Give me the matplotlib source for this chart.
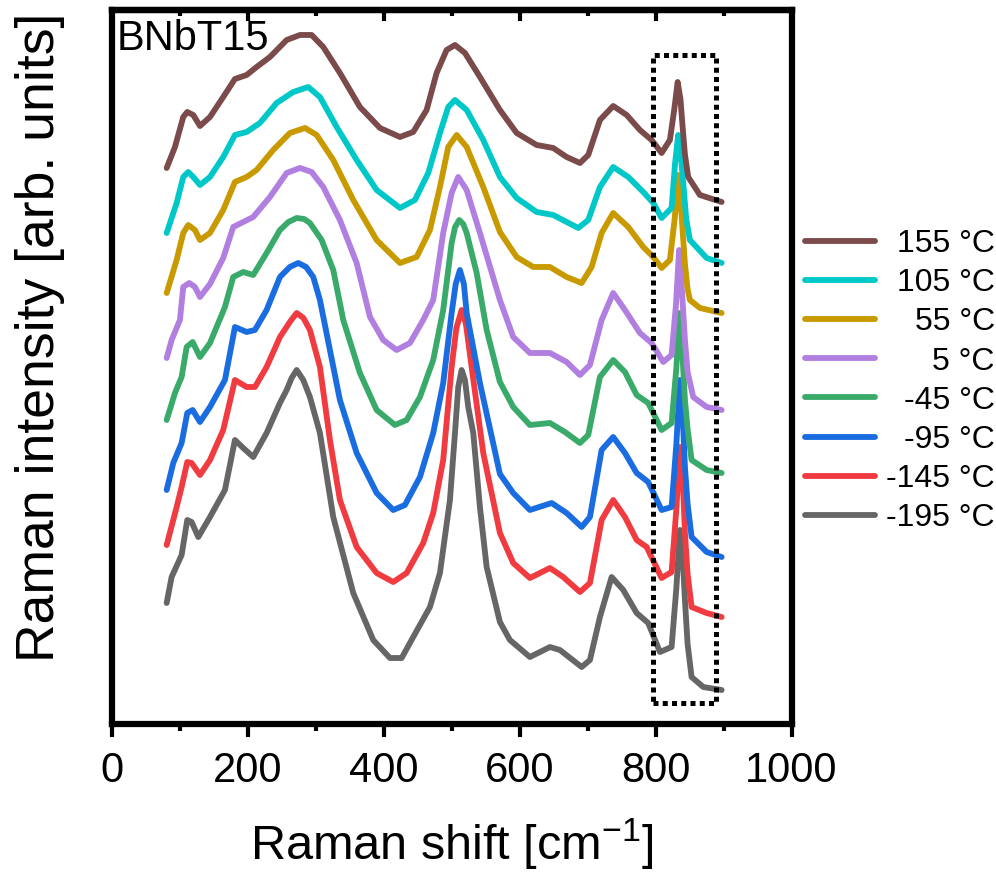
import numpy as np
import matplotlib.pyplot as plt
from matplotlib.patches import Rectangle
from matplotlib.ticker import MultipleLocator

plt.rcParams['font.family'] = ['Liberation Sans', 'DejaVu Sans']
plt.rcParams['mathtext.fontset'] = 'custom'
plt.rcParams['mathtext.rm'] = 'Liberation Sans'
plt.rcParams['mathtext.default'] = 'regular'

# Raman spectra (stacked): shift [cm-1], intensity [arb. units]
x_m195 = [80.9, 88.2, 102.9, 111.2, 117.6, 127.4, 144.6, 166.6, 181.3, 193.5, 208.2, 227.9, 247.5, 257.4,
          264.7, 272.1, 281.8, 291.6, 306.3, 325.9, 355.3, 384.7, 409.3, 426.5, 443.5, 468.1, 482.8, 497.5,
          504.9, 509.7, 514.7, 519.6, 524.4, 531.8, 541.6, 551.5, 571, 585.7, 615.1, 644.6, 659.3, 691.2,
          703.4, 718.1, 735.3, 752.4, 772.1, 789.1, 806.3, 823.5, 830.5, 835.7, 840, 843.1, 847, 852.9,
          870, 897.1]
y_m195 = [121, 147, 169, 204, 202, 187, 207, 234, 284, 276, 267, 291, 321, 334,
          346, 354, 344, 327, 291, 207, 131, 84, 66, 66, 87, 117, 151, 224,
          291, 337, 354, 344, 317, 291, 217, 157, 102, 84, 67, 77, 74, 57,
          64, 107, 147, 134, 111, 101, 72, 77, 136, 194, 165, 124, 80, 47,
          37, 34]

x_m145 = [80.9, 95.6, 102.9, 111.2, 117.6, 129.9, 144.6, 164.1, 181.3, 198.5, 210.7, 227.9, 247.5, 262,
          272.1, 282, 291.6, 306.3, 321, 335.7, 360.3, 389.7, 414.1, 433.8, 458.2, 472.9, 487.6, 500,
          507, 514.7, 521, 529.4, 546.5, 571, 590.6, 615.1, 644.6, 664.1, 688.7, 703.4, 720.6, 737.6,
          754.9, 772.1, 786.8, 808.8, 823.5, 830.5, 835.7, 840, 843.1, 847, 852.9, 875, 897.1]
y_m145 = [179, 217, 237, 262, 261, 249, 264, 294, 344, 337, 337, 357, 387, 402,
          411, 406, 394, 357, 284, 224, 177, 151, 142, 151, 181, 211, 264, 357,
          396, 414, 400, 357, 271, 191, 161, 146, 156, 147, 132, 141, 204, 224,
          207, 184, 177, 146, 152, 215, 277, 245, 191, 150, 117, 111, 107]

x_m95 = [80.9, 90.6, 102.9, 111.2, 119.1, 129.9, 144.6, 166.6, 181.3, 198.5, 210.7, 227.9, 247.5, 262,
         274.4, 286, 296.5, 306.3, 321, 335.7, 360.3, 389.7, 414.1, 431.3, 453.4, 472.9, 487.6, 500,
         506, 512.2, 518, 522.1, 541.6, 571, 590.6, 615.1, 647.1, 669.1, 691.2, 703.4, 720.6, 737.6,
         754.9, 772.1, 789.1, 808.8, 823.5, 830.5, 835.7, 840, 843.1, 847, 852.9, 875, 897.1]
y_m95 = [234, 261, 281, 311, 314, 302, 317, 344, 397, 392, 394, 414, 447, 457,
         461, 457, 447, 424, 374, 324, 271, 231, 214, 219, 247, 291, 341, 411,
         440, 454, 440, 411, 341, 250, 231, 214, 221, 211, 197, 207, 274, 287,
         271, 251, 242, 214, 217, 280, 344, 305, 257, 220, 187, 172, 167]

x_m45 = [80.9, 93.1, 102.9, 110.3, 119.1, 129.9, 144.6, 166.6, 178.8, 193.5, 208.2, 227.9, 247.5, 260,
         272.1, 283, 291.6, 308.8, 325.9, 340.6, 365.1, 389.7, 416.6, 433.8, 453.4, 472.9, 487.6, 500,
         505, 511.2, 517, 522.1, 536.8, 551.5, 571, 590.6, 615.1, 644.6, 666.6, 688.7, 700.9, 718.1,
         737.6, 754.9, 772.1, 789.1, 808.8, 823.5, 830.5, 834.7, 839, 843.1, 847, 852.9, 875, 897.1]
y_m45 = [304, 331, 347, 377, 382, 367, 381, 417, 447, 452, 449, 471, 494, 502,
         506, 505, 501, 484, 454, 404, 351, 314, 299, 304, 327, 364, 414, 481,
         497, 504, 500, 491, 451, 394, 342, 317, 299, 301, 292, 281, 289, 347,
         364, 352, 329, 321, 294, 301, 356, 411, 375, 324, 295, 264, 254, 251]

x_p5 = [80.9, 88.2, 100.4, 105.3, 114.1, 122.5, 129.9, 144.6, 164.1, 178.8, 193.5, 208.2, 232.8, 257.4,
        276.9, 294.1, 311.2, 335.7, 360.3, 379.9, 399.4, 419.1, 438.7, 458.2, 472.9, 487.6, 500, 509.7,
        522.1, 541.6, 571, 590.6, 615.1, 644.6, 669.1, 688.7, 703.4, 720.6, 737.6, 754.9, 776.9, 794.1,
        811.2, 823.5, 830, 834.5, 839, 843, 847, 855.3, 875, 897.1]
y_p5 = [366, 384, 404, 437, 441, 437, 427, 440, 466, 497, 502, 507, 527, 551,
        556, 552, 537, 504, 461, 407, 384, 374, 381, 404, 424, 491, 531, 547,
        534, 491, 424, 387, 371, 371, 362, 349, 359, 404, 431, 414, 391, 381,
        362, 369, 420, 474, 430, 385, 352, 327, 317, 314]

x_p55 = [80.9, 95.6, 105.3, 112.6, 122.5, 129.9, 144.6, 164.1, 181.3, 198.5, 213.2, 237.6, 262.2, 284.3,
         301.5, 325.9, 355.3, 389.7, 424, 448.5, 468.1, 482.8, 495, 507.4, 522.1, 546.5, 571, 595.6,
         620, 644.6, 669.1, 691.2, 705.9, 720.6, 737.6, 759.7, 781.8, 796.5, 808.8, 821, 828, 833.2,
         838, 843.1, 847, 850.4, 865.1, 897.1]
y_p55 = [431, 464, 491, 499, 494, 484, 491, 514, 542, 547, 554, 574, 591, 596,
         589, 564, 524, 484, 461, 467, 494, 537, 577, 589, 577, 537, 492, 467,
         457, 457, 447, 441, 457, 491, 511, 497, 477, 467, 456, 464, 505, 549,
         510, 460, 435, 424, 416, 411]

x_p105 = [80.9, 95.6, 105.3, 112.6, 120, 129.9, 144.6, 164.1, 181.3, 198.5, 218.1, 242.6, 267.1, 289.1,
          306.3, 330.9, 360.3, 389.7, 424, 446, 465.6, 482.8, 495, 504.9, 522.1, 546.5, 571, 595.6,
          625, 649.4, 669.1, 686.2, 700.9, 718.1, 737.6, 759.7, 781.8, 796.5, 808.8, 823.5, 828.5, 833.2,
          837.5, 840.6, 845, 850.4, 875, 897.1]
y_p105 = [491, 521, 547, 552, 547, 539, 547, 567, 589, 592, 601, 621, 632, 637,
          627, 597, 564, 534, 516, 524, 551, 591, 617, 624, 614, 584, 547, 526,
          512, 509, 502, 496, 504, 537, 557, 547, 532, 521, 506, 516, 560, 589,
          565, 541, 505, 484, 466, 461]

x_p155 = [80.9, 93.1, 105.3, 111.2, 120, 129.9, 144.6, 164.1, 181.3, 198.5, 213.2, 232.8, 257.4, 276.9,
          294.1, 311.2, 335.7, 365.1, 394.6, 424, 443.5, 463.2, 477.9, 492.6, 504.9, 519.6, 541.6, 571,
          595.6, 625, 649.4, 669.1, 688.7, 700.9, 718.1, 737.6, 757.4, 776.9, 794.1, 808.8, 821, 827.5,
          832.4, 836.5, 839.7, 843, 847.9, 865.1, 897.1]
y_p155 = [556, 577, 607, 612, 609, 598, 607, 627, 645, 649, 657, 667, 684, 689,
          689, 677, 651, 617, 596, 587, 592, 614, 651, 674, 679, 671, 647, 614,
          591, 579, 576, 567, 561, 569, 604, 618, 609, 594, 584, 571, 584, 615,
          642, 625, 597, 570, 547, 529, 522]

temps = ['-195 °C', '-145 °C', '-95 °C', '-45 °C', '5 °C', '55 °C', '105 °C', '155 °C']
colors = ['#666666', '#f03c40', '#1a6de0', '#3aaa6a', '#b07fe0', '#c99a00', '#00c8c8', '#7b4b4b']
xs = [x_m195, x_m145, x_m95, x_m45, x_p5, x_p55, x_p105, x_p155]
ys = [y_m195, y_m145, y_m95, y_m45, y_p5, y_p55, y_p105, y_p155]

# dotted box around the ~835 cm-1 mode
box_x = (796.5, 888.7)
box_y = (21, 669)

fig = plt.figure(figsize=(9.96, 8.76), dpi=100)
ax = fig.add_axes([0.1121, 0.1735, 0.6827, 0.8151])

lines = []
for x, y, c, t in zip(xs, ys, colors, temps):
    ln, = ax.plot(x, y, color=c, lw=4.2, label=t, solid_joinstyle='round', solid_capstyle='round')
    lines.append(ln)

ax.add_patch(Rectangle((box_x[0], box_y[0]), box_x[1] - box_x[0], box_y[1] - box_y[0],
                       fill=False, edgecolor='black', linewidth=3.6,
                       linestyle=(0, (1, 0.85)), zorder=5))

ax.set_xlim(0, 1000)
ax.set_ylim(0, 714)
ax.set_yticks([])

for s in ax.spines.values():
    s.set_linewidth(4.5)

ax.xaxis.set_major_locator(MultipleLocator(200))
ax.xaxis.set_minor_locator(MultipleLocator(100))
ax.tick_params(axis='x', which='major', direction='out', length=9.5, width=3, labelsize=30, pad=10)
ax.tick_params(axis='x', which='minor', direction='out', length=5, width=3)

# inward ticks on top
top = ax.secondary_xaxis('top')
top.xaxis.set_major_locator(MultipleLocator(200))
top.xaxis.set_minor_locator(MultipleLocator(100))
top.tick_params(which='major', direction='in', length=8, width=3, labeltop=False)
top.tick_params(which='minor', direction='in', length=4, width=3)
top.spines['top'].set_linewidth(4.5)

ax.set_xlabel('Raman shift [cm$^{-1}$]', fontsize=35)
ax.xaxis.set_label_coords(0.5, -0.13)
ax.set_ylabel('Raman intensity [arb. units]', fontsize=38.5)
ax.yaxis.set_label_coords(-0.069, 0.542)

ax.text(0.008, 0.988, 'BNbT15', transform=ax.transAxes, fontsize=30, va='top', ha='left')

leg = ax.legend(lines[::-1], temps[::-1], loc='center left', bbox_to_anchor=(0.808, 0.565),
                bbox_transform=fig.transFigure, frameon=False, fontsize=23,
                handlelength=2.2, handletextpad=0.35, labelspacing=0.285,
                borderpad=0, borderaxespad=0)

# right-align the legend labels: shift each label by its missing width
fig.canvas.draw()
r = fig.canvas.get_renderer()
widths = [t.get_window_extent(r).width for t in leg.get_texts()]
w = max(widths)
for t, wi in zip(leg.get_texts(), widths):
    t.set_position((w - wi, 0))

fig.savefig('out.png', dpi=100)
